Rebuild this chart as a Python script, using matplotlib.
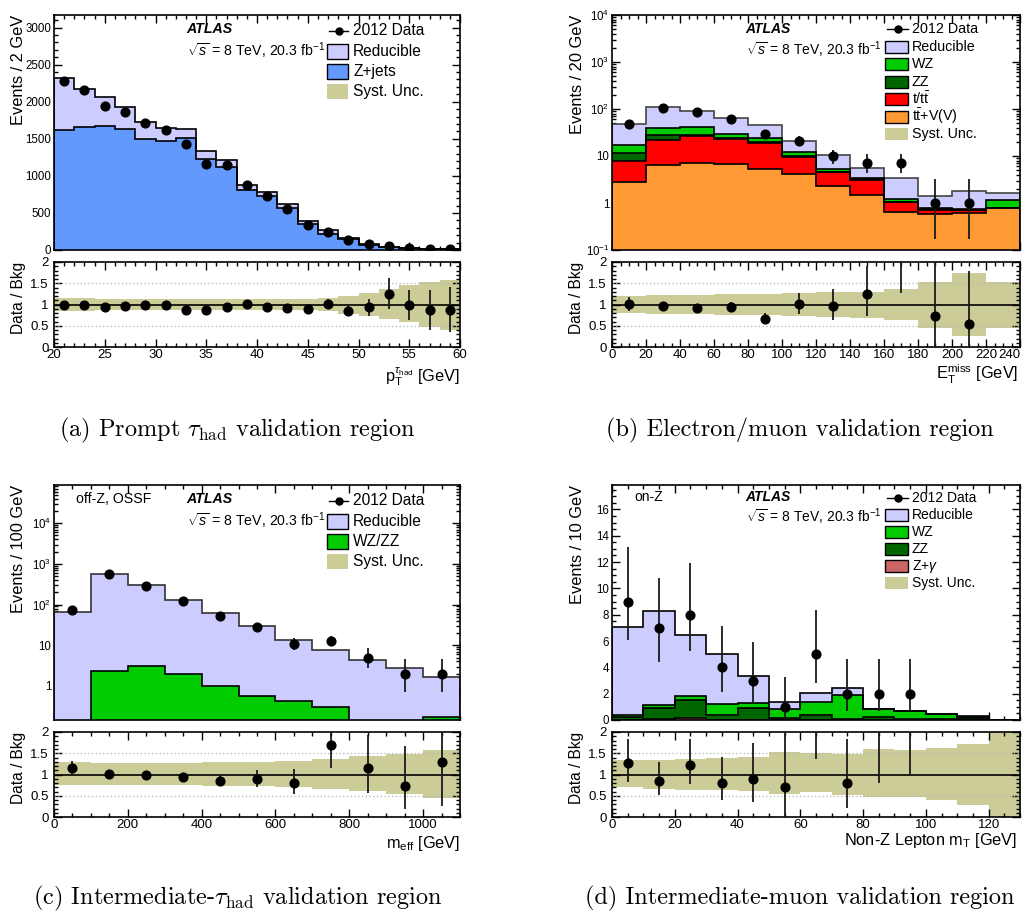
import numpy as np
import matplotlib
matplotlib.use('Agg')
import matplotlib.pyplot as plt
from matplotlib.patches import Rectangle
from matplotlib.lines import Line2D
from matplotlib.ticker import MultipleLocator, LogLocator, FuncFormatter, NullFormatter, FixedLocator

plt.rcParams['font.family'] = ['Liberation Sans', 'DejaVu Sans']
plt.rcParams['mathtext.fontset'] = 'custom'
plt.rcParams['mathtext.rm'] = 'Liberation Sans'
plt.rcParams['mathtext.it'] = 'Liberation Sans:italic'
plt.rcParams['mathtext.bf'] = 'Liberation Sans:bold'
plt.rcParams['mathtext.sf'] = 'Liberation Sans'

# ---------------- data: panel (a) ----------------
edges_a = np.arange(20, 62, 2)
zjets_a = [1614, 1664, 1673, 1628, 1493, 1471, 1507, 1229, 1121, 803, 726, 570, 354, 220, 143, 67, 36, 22, 13, 9]
reduc_a = [700, 506, 394, 300, 233, 179, 130, 103, 90, 71, 50, 49, 36, 45, 23, 18, 9, 5, 5, 4]
data_a = [2274, 2152, 1946, 1857, 1709, 1614, 1435, 1157, 1143, 874, 731, 556, 336, 238, 139, 78, 55, 26, 15, 11]
ratio_a = [0.98, 1.00, 0.95, 0.96, 0.99, 0.98, 0.88, 0.87, 0.94, 1.01, 0.95, 0.91, 0.90, 1.02, 0.85, 0.94, 1.25, 0.98, 0.87, 0.88]
ratio_lo_a = [0.96, 0.98, 0.93, 0.94, 0.97, 0.96, 0.86, 0.85, 0.91, 0.98, 0.92, 0.87, 0.84, 0.93, 0.72, 0.74, 0.89, 0.63, 0.40, 0.35]
ratio_hi_a = [1.00, 1.02, 0.97, 0.98, 1.01, 1.00, 0.90, 0.89, 0.97, 1.04, 0.98, 0.95, 0.96, 1.12, 0.98, 1.13, 1.62, 1.33, 1.33, 1.42]
band_hi_a = [1.15, 1.15, 1.14, 1.14, 1.13, 1.13, 1.13, 1.13, 1.13, 1.13, 1.13, 1.13, 1.14, 1.15, 1.20, 1.26, 1.36, 1.45, 1.53, 1.58]
band_lo_a = [0.85, 0.85, 0.86, 0.86, 0.87, 0.87, 0.87, 0.87, 0.87, 0.87, 0.87, 0.86, 0.86, 0.84, 0.78, 0.74, 0.67, 0.58, 0.48, 0.41]

# ---------------- data: panel (b) ----------------
edges_b = np.arange(0, 260, 20)
ttv_b = [2.77, 6.4, 7.2, 6.7, 5.2, 4.1, 2.28, 1.48, 0.64, 0.58, 0.60, 0.77]
tt_b = [5.13, 15.6, 19.6, 16.1, 14.1, 5.6, 2.22, 1.62, 0.39, 0.14, 0.10, 0.01]
zz_b = [3.9, 5.7, 1.8, 1.5, 0.7, 0.3, 0.1, 0.1, 0.04, 0.02, 0.02, 0.01]
wz_b = [5.1, 11.5, 11.9, 5.8, 3.9, 2.2, 0.75, 0.2, 0.17, 0.04, 0.02, 0.39]
reduc_b = [30.0, 70.8, 50.1, 34.0, 21.5, 8.4, 5.15, 2.2, 2.19, 0.61, 1.04, 0.46]
data_b = [48, 105, 85, 60, 30, 21, 10, 7, 7, 1, 1, np.nan]
data_lo_b = [41.1, 94.8, 75.8, 52.3, 24.6, 16.5, 6.9, 4.42, 4.42, 0.17, 0.17, np.nan]
data_hi_b = [55.5, 115.8, 94.8, 68.3, 36.4, 26.3, 13.6, 10.77, 10.77, 3.3, 3.3, np.nan]
ratio_b = [1.02, 0.96, 0.92, 0.94, 0.67, 1.02, 0.96, 1.24, 2.04, 0.72, 0.55, np.nan]
ratio_lo_b = [0.85, 0.87, 0.83, 0.82, 0.55, 0.78, 0.64, 0.74, 1.27, 0.0, 0.0, np.nan]
ratio_hi_b = [1.18, 1.05, 1.00, 1.06, 0.80, 1.28, 1.36, 1.90, 2.5, 2.5, 1.78, np.nan]
band_hi_b = [1.21, 1.22, 1.23, 1.24, 1.25, 1.28, 1.29, 1.30, 1.37, 1.53, 1.75, 1.53]
band_lo_b = [0.79, 0.78, 0.77, 0.76, 0.75, 0.74, 0.71, 0.69, 0.63, 0.45, 0.26, 0.45]

# ---------------- data: panel (c) ----------------
edges_c = np.arange(0, 1200, 100)
wzzz_c = [0, 2.34, 3.16, 1.97, 1.0, 0.58, 0.42, 0.30, 0, 0, 0.173]
reduc_c = [64.8, 554.7, 295.8, 126, 62.6, 29.9, 13.4, 7.4, 4.36, 2.77, 1.46]
data_c = [74, 568, 294, 121, 54, 28, 11, 13, 5, 2, 2]
data_lo_c = [65.4, 544, 277, 110, 46.7, 22.7, 7.7, 9.4, 2.84, 0.71, 0.71]
data_hi_c = [83.6, 592, 311, 132, 61.3, 33.3, 14.8, 17.1, 8.38, 4.64, 4.64]
ratio_c = [1.16, 1.02, 0.98, 0.94, 0.84, 0.90, 0.81, 1.70, 1.16, 0.73, 1.29]
ratio_lo_c = [1.00, 0.98, 0.93, 0.87, 0.72, 0.70, 0.55, 1.15, 0.57, 0.18, 0.25]
ratio_hi_c = [1.32, 1.06, 1.03, 1.01, 0.96, 1.10, 1.12, 2.5, 1.92, 1.66, 2.5]
band_hi_c = [1.29, 1.27, 1.27, 1.27, 1.29, 1.30, 1.32, 1.36, 1.44, 1.48, 1.57]
band_lo_c = [0.75, 0.76, 0.76, 0.76, 0.74, 0.72, 0.71, 0.67, 0.61, 0.54, 0.45]

# ---------------- data: panel (d) ----------------
edges_d = np.arange(0, 140, 10)
zgam_d = [0, 0.08, 0.15, 0, 0, 0, 0, 0, 0, 0, 0, 0, 0]
zz_d = [0.2, 0.81, 1.37, 0.36, 0.94, 0.15, 0.41, 0.1, 0.2, 0.08, 0.05, 0.15, 0]
wz_d = [0.2, 0.25, 0.33, 0.88, 0.35, 0.69, 0.94, 1.8, 0.61, 0.58, 0.38, 0.10, 0]
reduc_d = [6.68, 7.16, 4.62, 3.81, 2.09, 0.56, 0.71, 0.56, 0.05, 0.05, 0.03, 0.05, 0]
data_d = [9, 7, 8, 4, 3, 1, 5, 2, 2, 2, np.nan, np.nan, np.nan]
data_lo_d = [6.06, 4.42, 5.23, 2.09, 1.37, 0.17, 2.84, 0.71, 0.71, 0.71, np.nan, np.nan, np.nan]
data_hi_d = [13.11, 10.77, 11.95, 7.16, 5.92, 3.3, 8.38, 4.64, 4.64, 4.64, np.nan, np.nan, np.nan]
ratio_d = [1.26, 0.85, 1.23, 0.80, 0.89, 0.71, 2.43, 0.81, 2.33, 2.8, np.nan, np.nan, np.nan]
ratio_lo_d = [0.83, 0.52, 0.78, 0.39, 0.35, 0.0, 1.37, 0.22, 0.81, 0.99, np.nan, np.nan, np.nan]
ratio_hi_d = [1.84, 1.29, 1.83, 1.41, 1.74, 2.5, 2.5, 1.84, 2.5, 2.5, np.nan, np.nan, np.nan]
band_hi_d = [1.33, 1.34, 1.36, 1.38, 1.41, 1.52, 1.50, 1.49, 1.59, 1.57, 1.62, 1.72, 2.5]
band_lo_d = [0.70, 0.66, 0.64, 0.64, 0.61, 0.55, 0.59, 0.52, 0.48, 0.47, 0.40, 0.28, 0.0]

# ---------------- colours ----------------
C_RED = '#ccccff'
C_ZJ = '#6399fc'
C_SYS = '#cccc99'
C_WZ = '#00cc00'
C_ZZ = '#006600'
C_TT = '#ff0000'
C_TTV = '#ff9933'
C_ZG = '#cc6666'

W, H = 1027, 911
fig = plt.figure(figsize=(W / 100, H / 100), dpi=100)


def fx(x):
    return x / W


def fy(y):
    return 1 - y / H


def add_ax(l, r, t, b):
    return fig.add_axes([l / W, 1 - b / H, (r - l) / W, (b - t) / H])


def style(ax, main):
    for s in ax.spines.values():
        s.set_linewidth(1.2)
    ax.tick_params(which='both', direction='in', top=True, right=True, width=1.0)
    ax.tick_params(which='major', length=5.5)
    ax.tick_params(which='minor', length=2.8)
    if main:
        ax.tick_params(axis='x', labelbottom=False)
        ax.tick_params(axis='y', labelsize=8.3, pad=2)
    else:
        ax.tick_params(axis='both', labelsize=9.5)
        ax.tick_params(axis='x', pad=1.5)
        ax.tick_params(axis='y', pad=4)


def logfmt(v, pos):
    e = int(round(np.log10(v)))
    if e == 0:
        return '1'
    if e == 1:
        return '10'
    return r'$10^{%d}$' % e


def draw_stack(ax, edges, comps, colors, log=False, edgecolors=None):
    base = 1e-4 if log else 0.0
    cum = np.zeros(len(edges) - 1)
    layers = []
    for v, c in zip(comps, colors):
        cum = cum + np.asarray(v, float)
        layers.append(cum.copy())
    if edgecolors is None:
        edgecolors = ['k'] * len(comps)
    for lay, c, ec in reversed(list(zip(layers, colors, edgecolors))):
        vals = np.maximum(lay, base) if log else lay
        ax.stairs(vals, edges, baseline=base, fill=True, facecolor=c, edgecolor='none', zorder=2)
        ax.stairs(vals, edges, baseline=base, fill=False, color=ec, lw=1.2, zorder=2.1)


def draw_data(ax, edges, vals, lo=None, hi=None):
    cen = 0.5 * (np.asarray(edges[:-1]) + np.asarray(edges[1:]))
    vals = np.asarray(vals, float)
    if lo is not None:
        lo = np.asarray(lo, float)
        hi = np.asarray(hi, float)
        ax.vlines(cen, lo, hi, color='#1a1a1a', lw=1.3, zorder=5)
    ax.plot(cen, vals, 'o', color='k', ms=6.3, zorder=6, clip_on=True)


def draw_ratio(ax, edges, r, lo, hi, blo, bhi):
    edges = np.asarray(edges)
    ax.stairs(bhi, edges, baseline=blo, fill=True, facecolor=C_SYS, edgecolor='none', zorder=1)
    for yv in (0.5, 1.5):
        ax.axhline(yv, color='#b0b0b0', lw=0.9, ls=(0, (1, 2)), zorder=2)
    ax.axhline(1.0, color='k', lw=1.2, zorder=3)
    cen = 0.5 * (edges[:-1] + edges[1:])
    r = np.asarray(r, float)
    ax.vlines(cen, np.asarray(lo, float), np.asarray(hi, float), color='#1a1a1a', lw=1.3, zorder=5)
    show = np.where((r >= 0) & (r <= 2.0), r, np.nan)
    ax.plot(cen, show, 'o', color='k', ms=6.3, zorder=6)
    ax.set_ylim(0, 2)
    ax.set_xlim(edges[0], edges[-1])
    ax.yaxis.set_major_locator(FixedLocator([0, 0.5, 1, 1.5, 2]))
    ax.yaxis.set_major_formatter(FuncFormatter(lambda v, p: ('%g' % v)))
    ax.yaxis.set_minor_locator(MultipleLocator(0.1))


def legend(entries, xbox, xtext, y0, dy, bw, bh, fs):
    for i, (kind, label, color) in enumerate(entries):
        y = y0 + i * dy
        if kind == 'data':
            fig.add_artist(Line2D([fx(xbox + 2), fx(xbox + bw)], [fy(y), fy(y)], color='k', lw=1.0))
            fig.add_artist(Line2D([fx(xbox + 1 + bw / 2)], [fy(y)], marker='o', color='k', ms=5.0))
        else:
            ec = 'k' if kind == 'box' else 'none'
            fig.add_artist(Rectangle((fx(xbox), fy(y + bh / 2)), bw / W, bh / H,
                                     facecolor=color, edgecolor=ec, lw=1.0))
        fig.text(fx(xtext), fy(y), label, fontsize=fs, va='center', ha='left')


def atlas(x, y1, y2, fs):
    fig.text(fx(x), fy(y1), 'ATLAS', fontsize=fs, fontweight='bold', fontstyle='italic', va='center')
    fig.text(fx(x + 1), fy(y2), r'$\sqrt{s}$ = 8 TeV, 20.3 fb$^{-1}$', fontsize=fs, va='center')


def caption(x, y, txt):
    fig.text(fx(x), fy(y), txt, fontsize=17.5, family='cmr10', math_fontfamily='cm',
             ha='center', va='center')


# ======== panel (a) ========
axa = add_ax(54, 460, 15, 250)
draw_stack(axa, edges_a, [zjets_a, reduc_a], [C_ZJ, C_RED])
draw_data(axa, edges_a, data_a)
axa.set_xlim(20, 60)
axa.set_ylim(0, 3170)
axa.yaxis.set_major_locator(MultipleLocator(500))
axa.yaxis.set_minor_locator(MultipleLocator(100))
axa.xaxis.set_major_locator(MultipleLocator(5))
axa.xaxis.set_minor_locator(MultipleLocator(1))
style(axa, True)
ra = add_ax(54, 460, 262, 347)
draw_ratio(ra, edges_a, ratio_a, ratio_lo_a, ratio_hi_a, band_lo_a, band_hi_a)
ra.xaxis.set_major_locator(MultipleLocator(5))
ra.xaxis.set_minor_locator(MultipleLocator(1))
style(ra, False)
fig.text(fx(19), fy(15), 'Events / 2 GeV', rotation=90, fontsize=11.8, ha='center', va='top')
fig.text(fx(18), fy(262), 'Data / Bkg', rotation=90, fontsize=11.2, ha='center', va='top')
fig.text(fx(460), fy(381), r'$\mathrm{p}_{\mathrm{T}}^{\tau_{\mathrm{had}}}$ [GeV]', fontsize=11.8,
         ha='right', va='baseline')
atlas(186, 29.3, 50.7, 10.2)
legend([('data', '2012 Data', 'k'), ('box', 'Reducible', C_RED), ('box', 'Z+jets', C_ZJ),
        ('band', 'Syst. Unc.', C_SYS)], 327, 353, 30.7, 20.3, 21, 15, 11.2)
caption(237, 430, r'(a) Prompt $\tau_{\mathrm{had}}$ validation region')

# ======== panel (b) ========
axb = add_ax(612, 1020, 15, 250)
draw_stack(axb, edges_b, [ttv_b, tt_b, zz_b, wz_b, reduc_b], [C_TTV, C_TT, C_ZZ, C_WZ, C_RED], log=True,
           edgecolors=['k', 'k', 'k', 'k', '#444444'])
draw_data(axb, edges_b, data_b, data_lo_b, data_hi_b)
axb.set_yscale('log')
axb.set_xlim(0, 240)
axb.set_ylim(0.1, 1e4)
axb.yaxis.set_major_locator(LogLocator(base=10, numticks=10))
axb.yaxis.set_minor_locator(LogLocator(base=10, subs=np.arange(2, 10), numticks=10))
axb.yaxis.set_major_formatter(FuncFormatter(logfmt))
axb.yaxis.set_minor_formatter(NullFormatter())
axb.xaxis.set_major_locator(MultipleLocator(20))
axb.xaxis.set_minor_locator(MultipleLocator(5))
style(axb, True)
rb = add_ax(612, 1020, 262, 347)
draw_ratio(rb, edges_b, ratio_b, ratio_lo_b, ratio_hi_b, band_lo_b, band_hi_b)
rb.xaxis.set_major_locator(MultipleLocator(20))
rb.xaxis.set_minor_locator(MultipleLocator(5))
style(rb, False)
fig.text(fx(578), fy(15), 'Events / 20 GeV', rotation=90, fontsize=11.8, ha='center', va='top')
fig.text(fx(577), fy(262), 'Data / Bkg', rotation=90, fontsize=11.2, ha='center', va='top')
fig.text(fx(1018), fy(379), r'$\mathrm{E}_{\mathrm{T}}^{\mathrm{miss}}$ [GeV]', fontsize=11.8,
         ha='right', va='baseline')
atlas(745, 29.3, 50.0, 10.0)
legend([('data', '2012 Data', 'k'), ('box', 'Reducible', C_RED), ('box', 'WZ', C_WZ),
        ('box', 'ZZ', C_ZZ), ('box', r'$\mathrm{t/t\bar{t}}$', C_TT),
        ('box', r'$\mathrm{t\bar{t}}$+V(V)', C_TTV), ('band', 'Syst. Unc.', C_SYS)],
       885, 912, 29.3, 17.45, 23, 12, 10.3)
caption(800, 430, r'(b) Electron/muon validation region')

# ======== panel (c) ========
axc = add_ax(54, 460, 485, 720)
draw_stack(axc, edges_c, [wzzz_c, reduc_c], [C_WZ, C_RED], log=True, edgecolors=['k', '#333333'])
draw_data(axc, edges_c, data_c, data_lo_c, data_hi_c)
axc.set_yscale('log')
axc.set_xlim(0, 1100)
axc.set_ylim(0.146, 8.7e4)
axc.yaxis.set_major_locator(LogLocator(base=10, numticks=10))
axc.yaxis.set_minor_locator(LogLocator(base=10, subs=np.arange(2, 10), numticks=10))
axc.yaxis.set_major_formatter(FuncFormatter(logfmt))
axc.yaxis.set_minor_formatter(NullFormatter())
axc.xaxis.set_major_locator(MultipleLocator(200))
axc.xaxis.set_minor_locator(MultipleLocator(50))
style(axc, True)
rc = add_ax(54, 460, 732, 817)
draw_ratio(rc, edges_c, ratio_c, ratio_lo_c, ratio_hi_c, band_lo_c, band_hi_c)
rc.xaxis.set_major_locator(MultipleLocator(200))
rc.xaxis.set_minor_locator(MultipleLocator(50))
style(rc, False)
fig.text(fx(19), fy(485), 'Events / 100 GeV', rotation=90, fontsize=11.8, ha='center', va='top')
fig.text(fx(18), fy(732), 'Data / Bkg', rotation=90, fontsize=11.2, ha='center', va='top')
fig.text(fx(460), fy(848), r'$\mathrm{m}_{\mathrm{eff}}$ [GeV]', fontsize=11.8, ha='right', va='baseline')
atlas(186, 499.3, 520.7, 10.2)
fig.text(fx(76), fy(499.3), 'off-Z, OSSF', fontsize=10.2, va='center')
legend([('data', '2012 Data', 'k'), ('box', 'Reducible', C_RED), ('box', 'WZ/ZZ', C_WZ),
        ('band', 'Syst. Unc.', C_SYS)], 327, 353, 500.7, 20.3, 21, 15, 11.2)
caption(238, 898, r'(c) Intermediate-$\tau_{\mathrm{had}}$ validation region')

# ======== panel (d) ========
axd = add_ax(612, 1020, 485, 720)
draw_stack(axd, edges_d, [zgam_d, zz_d, wz_d, reduc_d], [C_ZG, C_ZZ, C_WZ, C_RED])
draw_data(axd, edges_d, data_d, data_lo_d, data_hi_d)
axd.set_xlim(0, 130)
axd.set_ylim(0, 17.85)
axd.yaxis.set_major_locator(MultipleLocator(2))
axd.yaxis.set_minor_locator(MultipleLocator(0.5))
axd.xaxis.set_major_locator(MultipleLocator(20))
axd.xaxis.set_minor_locator(MultipleLocator(5))
style(axd, True)
rd = add_ax(612, 1020, 732, 817)
draw_ratio(rd, edges_d, ratio_d, ratio_lo_d, ratio_hi_d, band_lo_d, band_hi_d)
rd.xaxis.set_major_locator(MultipleLocator(20))
rd.xaxis.set_minor_locator(MultipleLocator(5))
style(rd, False)
fig.text(fx(578), fy(485), 'Events / 10 GeV', rotation=90, fontsize=11.8, ha='center', va='top')
fig.text(fx(577), fy(732), 'Data / Bkg', rotation=90, fontsize=11.2, ha='center', va='top')
fig.text(fx(1017), fy(845), r'Non-Z Lepton $\mathrm{m}_{\mathrm{T}}$ [GeV]', fontsize=11.8,
         ha='right', va='baseline')
atlas(745, 497.3, 516.7, 10.0)
fig.text(fx(634), fy(497.3), 'on-Z', fontsize=10.0, va='center')
legend([('data', '2012 Data', 'k'), ('box', 'Reducible', C_RED), ('box', 'WZ', C_WZ),
        ('box', 'ZZ', C_ZZ), ('box', r'Z+$\gamma$', C_ZG), ('band', 'Syst. Unc.', C_SYS)],
       885, 912, 498.3, 17.0, 23, 12, 10.0)
caption(800, 898, r'(d) Intermediate-muon validation region')

# keep the last x tick label of panel (b) ratio inside the figure
fig.canvas.draw()
labs = rb.get_xticklabels()
vis = [t for t in labs if t.get_text() != '' and abs(t.get_position()[0] - 240) < 1e-6]
for t in vis:
    t.set_horizontalalignment('right')
    t.set_x(240)
rb.xaxis.set_major_formatter(FuncFormatter(lambda v, p: '%d' % v))
for t in rb.xaxis.get_major_ticks():
    if abs(t.get_loc() - 240) < 1e-6:
        t.label1.set_horizontalalignment('right')
        t.label1.set_x(t.label1.get_position()[0] + 0.0)

fig.savefig('out.png', dpi=100)
